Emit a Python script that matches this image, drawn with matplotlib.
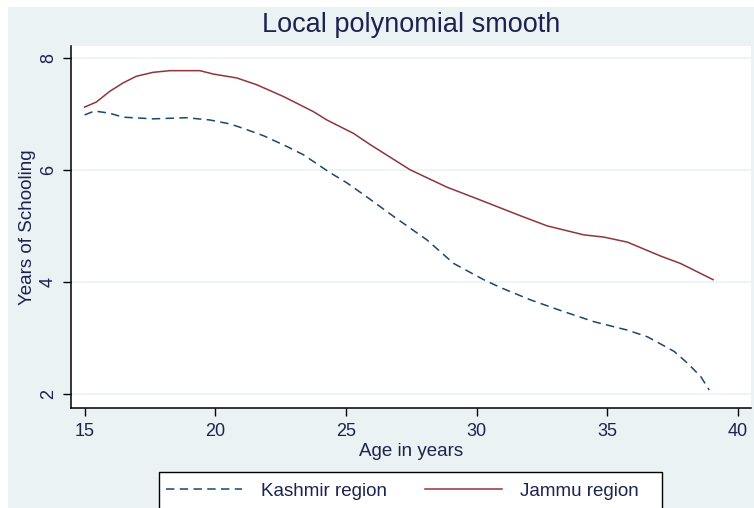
import matplotlib.pyplot as plt
from matplotlib.patches import Rectangle

# Local polynomial smooth of years of schooling by age
JAMMU_AGE = [15.0, 15.45, 15.96, 16.47, 16.98, 17.62, 18.26, 19.41, 19.92, 20.82,
             21.58, 22.6, 23.75, 24.27, 25.29, 25.93, 27.46, 28.87, 30.15, 31.68,
             32.7, 34.1, 34.87, 35.77, 37.05, 37.8, 39.05]
JAMMU_YRS = [7.12, 7.21, 7.40, 7.55, 7.67, 7.74, 7.77, 7.77, 7.71, 7.64,
             7.52, 7.31, 7.04, 6.89, 6.65, 6.45, 6.0, 5.69, 5.46, 5.18,
             5.0, 4.84, 4.80, 4.71, 4.46, 4.33, 4.04]

KASHMIR_AGE = [15.0, 15.38, 15.96, 16.47, 17.62, 18.9, 19.79, 20.56, 21.07, 21.84,
               22.73, 23.37, 24.39, 25.03, 25.79, 26.82, 28.1, 29.12, 30.27, 30.91,
               32.06, 33.21, 34.49, 35.77, 36.54, 37.56, 38.07, 38.58, 38.9]
KASHMIR_YRS = [6.98, 7.05, 7.01, 6.94, 6.91, 6.93, 6.89, 6.82, 6.74, 6.61,
               6.42, 6.27, 5.95, 5.77, 5.52, 5.17, 4.75, 4.33, 4.04, 3.90,
               3.68, 3.49, 3.29, 3.14, 3.02, 2.76, 2.55, 2.31, 2.07]

X_TICKS = [15, 20, 25, 30, 35, 40]
Y_TICKS = [2, 4, 6, 8]

NAVY = "#1a476f"
MAROON = "#90353b"
BG = "#eaf2f3"
TEXT = "#1c2350"

plt.rcParams["font.family"] = ["Liberation Sans", "DejaVu Sans"]

W, H = 754, 508
fig = plt.figure(figsize=(W / 100, H / 100), dpi=100, facecolor="white")
# Stata-style graph region (small white margin at top/left from the screenshot)
fig.patches.append(Rectangle((8 / W, 0), 1 - 8 / W, 1 - 7 / H,
                             transform=fig.transFigure, facecolor=BG,
                             edgecolor="none", zorder=-5))
# legend box, cut off by the bottom edge like in the screenshot
fig.patches.append(Rectangle((159 / W, -0.02), (662 - 159) / W, (508 - 472) / H + 0.02,
                             transform=fig.transFigure, facecolor="white",
                             edgecolor="black", lw=1.0, zorder=-4))

ax = fig.add_axes([71 / W, 1 - 408 / H, 680 / W, 362 / H])
ax.set_facecolor("white")

ax.plot(KASHMIR_AGE, KASHMIR_YRS, color=NAVY, lw=1.1, dashes=(5.5, 3.5),
        label="Kashmir region")
ax.plot(JAMMU_AGE, JAMMU_YRS, color=MAROON, lw=1.1, label="Jammu region")

ax.set_xlim(14.48, 40.5)
ax.set_ylim(1.75, 8.21)
ax.set_xticks(X_TICKS)
ax.set_yticks(Y_TICKS)
ax.grid(axis="y", color=BG, lw=1.2)
ax.set_axisbelow(True)

for side in ("top", "right"):
    ax.spines[side].set_visible(False)
for side in ("left", "bottom"):
    ax.spines[side].set_linewidth(1.1)
    ax.spines[side].set_color("black")

ax.tick_params(axis="both", direction="out", length=6, width=1.0,
               labelsize=13, labelcolor=TEXT)
ax.tick_params(axis="x", pad=5)
ax.tick_params(axis="y", pad=4)
for lab in ax.get_yticklabels():
    lab.set_rotation(90)
    lab.set_va("center")

ax.set_xlabel("Age in years", fontsize=13.5, color=TEXT, labelpad=2)
ax.set_ylabel("Years of Schooling", fontsize=13.5, color=TEXT, labelpad=3)
fig.text(0.5 * (71 + 751) / W, 1 - 25 / H, "Local polynomial smooth",
         ha="center", va="center", fontsize=19.5, color=TEXT)

leg = fig.legend(loc="center left", bbox_to_anchor=(159 / W, 1 - 491 / H),
                 ncol=2, frameon=False, fontsize=13.5,
                 handlelength=4.1, columnspacing=2.0, borderpad=0.35,
                 handletextpad=1.0, borderaxespad=0)
for t in leg.get_texts():
    t.set_color(TEXT)

fig.savefig("out.png", dpi=100, facecolor=fig.get_facecolor())
